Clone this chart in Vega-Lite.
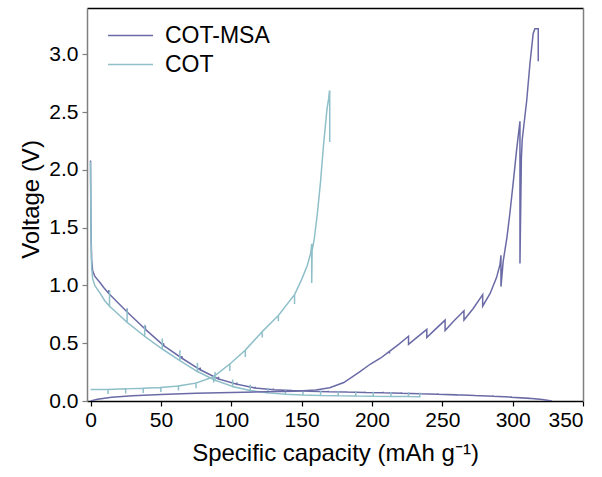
{
  "$schema": "https://vega.github.io/schema/vega-lite/v6.json",
  "width": 496,
  "height": 393,
  "autosize": {"type": "none"},
  "padding": {"left": 87, "top": 8, "right": 19, "bottom": 76},
  "background": "white",
  "config": {
    "view": {"stroke": null},
    "axis": {"grid": false, "labelFont": "Liberation Sans", "titleFont": "Liberation Sans", "labelFontSize": 21, "titleFontSize": 24, "labelColor": "#000", "titleColor": "#000", "titleFontWeight": "normal"}
  },
  "data": {"values": [
    {"s":"COT-MSA","p":"d","i":1,"x":0,"y":2.08},
    {"s":"COT-MSA","p":"d","i":2,"x":0.3,"y":1.5},
    {"s":"COT-MSA","p":"d","i":3,"x":0.8,"y":1.22},
    {"s":"COT-MSA","p":"d","i":4,"x":1.5,"y":1.13},
    {"s":"COT-MSA","p":"d","i":5,"x":3,"y":1.08},
    {"s":"COT-MSA","p":"d","i":6,"x":6.4,"y":1.03},
    {"s":"COT-MSA","p":"d","i":7,"x":9.5,"y":0.98},
    {"s":"COT-MSA","p":"d","i":8,"x":13,"y":0.93},
    {"s":"COT-MSA","p":"d","i":9,"x":13,"y":0.96},
    {"s":"COT-MSA","p":"d","i":10,"x":13,"y":0.93},
    {"s":"COT-MSA","p":"d","i":11,"x":26,"y":0.77},
    {"s":"COT-MSA","p":"d","i":12,"x":26,"y":0.8},
    {"s":"COT-MSA","p":"d","i":13,"x":26,"y":0.77},
    {"s":"COT-MSA","p":"d","i":14,"x":39,"y":0.62},
    {"s":"COT-MSA","p":"d","i":15,"x":39,"y":0.65},
    {"s":"COT-MSA","p":"d","i":16,"x":39,"y":0.62},
    {"s":"COT-MSA","p":"d","i":17,"x":52,"y":0.48},
    {"s":"COT-MSA","p":"d","i":18,"x":52,"y":0.5},
    {"s":"COT-MSA","p":"d","i":19,"x":52,"y":0.48},
    {"s":"COT-MSA","p":"d","i":20,"x":65,"y":0.37},
    {"s":"COT-MSA","p":"d","i":21,"x":65,"y":0.39},
    {"s":"COT-MSA","p":"d","i":22,"x":65,"y":0.37},
    {"s":"COT-MSA","p":"d","i":23,"x":78,"y":0.27},
    {"s":"COT-MSA","p":"d","i":24,"x":78,"y":0.29},
    {"s":"COT-MSA","p":"d","i":25,"x":78,"y":0.27},
    {"s":"COT-MSA","p":"d","i":26,"x":91,"y":0.19},
    {"s":"COT-MSA","p":"d","i":27,"x":91,"y":0.21},
    {"s":"COT-MSA","p":"d","i":28,"x":91,"y":0.19},
    {"s":"COT-MSA","p":"d","i":29,"x":104,"y":0.145},
    {"s":"COT-MSA","p":"d","i":30,"x":104,"y":0.16},
    {"s":"COT-MSA","p":"d","i":31,"x":104,"y":0.145},
    {"s":"COT-MSA","p":"d","i":32,"x":117,"y":0.112},
    {"s":"COT-MSA","p":"d","i":33,"x":117,"y":0.124},
    {"s":"COT-MSA","p":"d","i":34,"x":117,"y":0.112},
    {"s":"COT-MSA","p":"d","i":35,"x":130,"y":0.098},
    {"s":"COT-MSA","p":"d","i":36,"x":130,"y":0.108},
    {"s":"COT-MSA","p":"d","i":37,"x":130,"y":0.098},
    {"s":"COT-MSA","p":"d","i":38,"x":143,"y":0.09},
    {"s":"COT-MSA","p":"d","i":39,"x":143,"y":0.098},
    {"s":"COT-MSA","p":"d","i":40,"x":143,"y":0.09},
    {"s":"COT-MSA","p":"d","i":41,"x":156,"y":0.085},
    {"s":"COT-MSA","p":"d","i":42,"x":156,"y":0.093},
    {"s":"COT-MSA","p":"d","i":43,"x":156,"y":0.085},
    {"s":"COT-MSA","p":"d","i":44,"x":169,"y":0.08},
    {"s":"COT-MSA","p":"d","i":45,"x":169,"y":0.088},
    {"s":"COT-MSA","p":"d","i":46,"x":169,"y":0.08},
    {"s":"COT-MSA","p":"d","i":47,"x":182,"y":0.077},
    {"s":"COT-MSA","p":"d","i":48,"x":182,"y":0.085},
    {"s":"COT-MSA","p":"d","i":49,"x":182,"y":0.077},
    {"s":"COT-MSA","p":"d","i":50,"x":195,"y":0.074},
    {"s":"COT-MSA","p":"d","i":51,"x":195,"y":0.082},
    {"s":"COT-MSA","p":"d","i":52,"x":195,"y":0.074},
    {"s":"COT-MSA","p":"d","i":53,"x":208,"y":0.071},
    {"s":"COT-MSA","p":"d","i":54,"x":208,"y":0.079},
    {"s":"COT-MSA","p":"d","i":55,"x":208,"y":0.071},
    {"s":"COT-MSA","p":"d","i":56,"x":221,"y":0.067},
    {"s":"COT-MSA","p":"d","i":57,"x":221,"y":0.075},
    {"s":"COT-MSA","p":"d","i":58,"x":221,"y":0.067},
    {"s":"COT-MSA","p":"d","i":59,"x":234,"y":0.063},
    {"s":"COT-MSA","p":"d","i":60,"x":234,"y":0.071},
    {"s":"COT-MSA","p":"d","i":61,"x":234,"y":0.063},
    {"s":"COT-MSA","p":"d","i":62,"x":247,"y":0.058},
    {"s":"COT-MSA","p":"d","i":63,"x":247,"y":0.066},
    {"s":"COT-MSA","p":"d","i":64,"x":247,"y":0.058},
    {"s":"COT-MSA","p":"d","i":65,"x":260,"y":0.053},
    {"s":"COT-MSA","p":"d","i":66,"x":260,"y":0.061},
    {"s":"COT-MSA","p":"d","i":67,"x":260,"y":0.053},
    {"s":"COT-MSA","p":"d","i":68,"x":273,"y":0.047},
    {"s":"COT-MSA","p":"d","i":69,"x":273,"y":0.055},
    {"s":"COT-MSA","p":"d","i":70,"x":273,"y":0.047},
    {"s":"COT-MSA","p":"d","i":71,"x":286,"y":0.041},
    {"s":"COT-MSA","p":"d","i":72,"x":286,"y":0.049},
    {"s":"COT-MSA","p":"d","i":73,"x":286,"y":0.041},
    {"s":"COT-MSA","p":"d","i":74,"x":299,"y":0.033},
    {"s":"COT-MSA","p":"d","i":75,"x":299,"y":0.041},
    {"s":"COT-MSA","p":"d","i":76,"x":299,"y":0.033},
    {"s":"COT-MSA","p":"d","i":77,"x":312,"y":0.023},
    {"s":"COT-MSA","p":"d","i":78,"x":312,"y":0.031},
    {"s":"COT-MSA","p":"d","i":79,"x":312,"y":0.023},
    {"s":"COT-MSA","p":"d","i":80,"x":321,"y":0.012},
    {"s":"COT-MSA","p":"d","i":81,"x":328,"y":0.0},

    {"s":"COT","p":"d","i":1,"x":0,"y":2.07},
    {"s":"COT","p":"d","i":2,"x":0.3,"y":1.45},
    {"s":"COT","p":"d","i":3,"x":0.8,"y":1.15},
    {"s":"COT","p":"d","i":4,"x":1.5,"y":1.06},
    {"s":"COT","p":"d","i":5,"x":3,"y":1.0},
    {"s":"COT","p":"d","i":6,"x":6.4,"y":0.94},
    {"s":"COT","p":"d","i":7,"x":10,"y":0.87},
    {"s":"COT","p":"d","i":8,"x":13.5,"y":0.82},
    {"s":"COT","p":"d","i":9,"x":13.5,"y":0.96},
    {"s":"COT","p":"d","i":10,"x":13.5,"y":0.82},
    {"s":"COT","p":"d","i":11,"x":26,"y":0.68},
    {"s":"COT","p":"d","i":12,"x":26,"y":0.8},
    {"s":"COT","p":"d","i":13,"x":26,"y":0.68},
    {"s":"COT","p":"d","i":14,"x":38.5,"y":0.56},
    {"s":"COT","p":"d","i":15,"x":38.5,"y":0.66},
    {"s":"COT","p":"d","i":16,"x":38.5,"y":0.56},
    {"s":"COT","p":"d","i":17,"x":51,"y":0.45},
    {"s":"COT","p":"d","i":18,"x":51,"y":0.54},
    {"s":"COT","p":"d","i":19,"x":51,"y":0.45},
    {"s":"COT","p":"d","i":20,"x":63.5,"y":0.35},
    {"s":"COT","p":"d","i":21,"x":63.5,"y":0.44},
    {"s":"COT","p":"d","i":22,"x":63.5,"y":0.35},
    {"s":"COT","p":"d","i":23,"x":76,"y":0.255},
    {"s":"COT","p":"d","i":24,"x":76,"y":0.33},
    {"s":"COT","p":"d","i":25,"x":76,"y":0.255},
    {"s":"COT","p":"d","i":26,"x":88.5,"y":0.18},
    {"s":"COT","p":"d","i":27,"x":88.5,"y":0.25},
    {"s":"COT","p":"d","i":28,"x":88.5,"y":0.18},
    {"s":"COT","p":"d","i":29,"x":101,"y":0.125},
    {"s":"COT","p":"d","i":30,"x":101,"y":0.185},
    {"s":"COT","p":"d","i":31,"x":101,"y":0.125},
    {"s":"COT","p":"d","i":32,"x":113.5,"y":0.09},
    {"s":"COT","p":"d","i":33,"x":113.5,"y":0.14},
    {"s":"COT","p":"d","i":34,"x":113.5,"y":0.09},
    {"s":"COT","p":"d","i":35,"x":126,"y":0.07},
    {"s":"COT","p":"d","i":36,"x":126,"y":0.115},
    {"s":"COT","p":"d","i":37,"x":126,"y":0.07},
    {"s":"COT","p":"d","i":38,"x":138.5,"y":0.058},
    {"s":"COT","p":"d","i":39,"x":138.5,"y":0.1},
    {"s":"COT","p":"d","i":40,"x":138.5,"y":0.058},
    {"s":"COT","p":"d","i":41,"x":151,"y":0.052},
    {"s":"COT","p":"d","i":42,"x":151,"y":0.093},
    {"s":"COT","p":"d","i":43,"x":151,"y":0.052},
    {"s":"COT","p":"d","i":44,"x":163.5,"y":0.048},
    {"s":"COT","p":"d","i":45,"x":163.5,"y":0.088},
    {"s":"COT","p":"d","i":46,"x":163.5,"y":0.048},
    {"s":"COT","p":"d","i":47,"x":176,"y":0.046},
    {"s":"COT","p":"d","i":48,"x":176,"y":0.085},
    {"s":"COT","p":"d","i":49,"x":176,"y":0.046},
    {"s":"COT","p":"d","i":50,"x":188.5,"y":0.044},
    {"s":"COT","p":"d","i":51,"x":188.5,"y":0.083},
    {"s":"COT","p":"d","i":52,"x":188.5,"y":0.044},
    {"s":"COT","p":"d","i":53,"x":201,"y":0.042},
    {"s":"COT","p":"d","i":54,"x":201,"y":0.08},
    {"s":"COT","p":"d","i":55,"x":201,"y":0.042},
    {"s":"COT","p":"d","i":56,"x":213.5,"y":0.04},
    {"s":"COT","p":"d","i":57,"x":213.5,"y":0.078},
    {"s":"COT","p":"d","i":58,"x":213.5,"y":0.04},
    {"s":"COT","p":"d","i":59,"x":226,"y":0.038},
    {"s":"COT","p":"d","i":60,"x":226,"y":0.075},
    {"s":"COT","p":"d","i":61,"x":226,"y":0.038},
    {"s":"COT","p":"d","i":62,"x":234,"y":0.037},
    {"s":"COT","p":"d","i":63,"x":234,"y":0.07},

    {"s":"COT","p":"c","i":1,"x":0,"y":0.1},
    {"s":"COT","p":"c","i":2,"x":12.5,"y":0.1},
    {"s":"COT","p":"c","i":3,"x":12.5,"y":0.06},
    {"s":"COT","p":"c","i":4,"x":12.5,"y":0.1},
    {"s":"COT","p":"c","i":5,"x":25,"y":0.105},
    {"s":"COT","p":"c","i":6,"x":25,"y":0.065},
    {"s":"COT","p":"c","i":7,"x":25,"y":0.105},
    {"s":"COT","p":"c","i":8,"x":37.5,"y":0.11},
    {"s":"COT","p":"c","i":9,"x":37.5,"y":0.07},
    {"s":"COT","p":"c","i":10,"x":37.5,"y":0.11},
    {"s":"COT","p":"c","i":11,"x":50,"y":0.117},
    {"s":"COT","p":"c","i":12,"x":50,"y":0.077},
    {"s":"COT","p":"c","i":13,"x":50,"y":0.117},
    {"s":"COT","p":"c","i":14,"x":62.5,"y":0.13},
    {"s":"COT","p":"c","i":15,"x":62.5,"y":0.09},
    {"s":"COT","p":"c","i":16,"x":62.5,"y":0.13},
    {"s":"COT","p":"c","i":17,"x":75,"y":0.155},
    {"s":"COT","p":"c","i":18,"x":75,"y":0.11},
    {"s":"COT","p":"c","i":19,"x":75,"y":0.155},
    {"s":"COT","p":"c","i":20,"x":87.5,"y":0.21},
    {"s":"COT","p":"c","i":21,"x":87.5,"y":0.16},
    {"s":"COT","p":"c","i":22,"x":87.5,"y":0.21},
    {"s":"COT","p":"c","i":23,"x":99,"y":0.32},
    {"s":"COT","p":"c","i":24,"x":99,"y":0.26},
    {"s":"COT","p":"c","i":25,"x":99,"y":0.32},
    {"s":"COT","p":"c","i":26,"x":110,"y":0.44},
    {"s":"COT","p":"c","i":27,"x":110,"y":0.38},
    {"s":"COT","p":"c","i":28,"x":110,"y":0.44},
    {"s":"COT","p":"c","i":29,"x":122,"y":0.6},
    {"s":"COT","p":"c","i":30,"x":122,"y":0.55},
    {"s":"COT","p":"c","i":31,"x":122,"y":0.6},
    {"s":"COT","p":"c","i":32,"x":133.5,"y":0.74},
    {"s":"COT","p":"c","i":33,"x":133.5,"y":0.69},
    {"s":"COT","p":"c","i":34,"x":133.5,"y":0.74},
    {"s":"COT","p":"c","i":35,"x":145,"y":0.92},
    {"s":"COT","p":"c","i":36,"x":145,"y":0.84},
    {"s":"COT","p":"c","i":37,"x":145,"y":0.92},
    {"s":"COT","p":"c","i":38,"x":150,"y":1.05},
    {"s":"COT","p":"c","i":39,"x":154,"y":1.17},
    {"s":"COT","p":"c","i":40,"x":156.5,"y":1.28},
    {"s":"COT","p":"c","i":41,"x":157.2,"y":1.36},
    {"s":"COT","p":"c","i":42,"x":157.2,"y":1.02},
    {"s":"COT","p":"c","i":43,"x":157.5,"y":1.3},
    {"s":"COT","p":"c","i":44,"x":159,"y":1.4},
    {"s":"COT","p":"c","i":45,"x":161.2,"y":1.62},
    {"s":"COT","p":"c","i":46,"x":163.5,"y":1.9},
    {"s":"COT","p":"c","i":47,"x":165.5,"y":2.2},
    {"s":"COT","p":"c","i":48,"x":168,"y":2.52},
    {"s":"COT","p":"c","i":49,"x":169.3,"y":2.62},
    {"s":"COT","p":"c","i":50,"x":169.8,"y":2.68},
    {"s":"COT","p":"c","i":51,"x":170,"y":2.68},
    {"s":"COT","p":"c","i":52,"x":170,"y":2.24},

    {"s":"COT-MSA","p":"c","i":1,"x":0,"y":0.0},
    {"s":"COT-MSA","p":"c","i":2,"x":5,"y":0.015},
    {"s":"COT-MSA","p":"c","i":3,"x":15,"y":0.032},
    {"s":"COT-MSA","p":"c","i":4,"x":30,"y":0.046},
    {"s":"COT-MSA","p":"c","i":5,"x":50,"y":0.057},
    {"s":"COT-MSA","p":"c","i":6,"x":75,"y":0.066},
    {"s":"COT-MSA","p":"c","i":7,"x":100,"y":0.073},
    {"s":"COT-MSA","p":"c","i":8,"x":125,"y":0.079},
    {"s":"COT-MSA","p":"c","i":9,"x":145,"y":0.085},
    {"s":"COT-MSA","p":"c","i":10,"x":160,"y":0.095},
    {"s":"COT-MSA","p":"c","i":11,"x":170,"y":0.115},
    {"s":"COT-MSA","p":"c","i":12,"x":180,"y":0.16},
    {"s":"COT-MSA","p":"c","i":13,"x":191,"y":0.25},
    {"s":"COT-MSA","p":"c","i":14,"x":199,"y":0.32},
    {"s":"COT-MSA","p":"c","i":15,"x":206,"y":0.37},
    {"s":"COT-MSA","p":"c","i":16,"x":212.5,"y":0.43},
    {"s":"COT-MSA","p":"c","i":17,"x":212.5,"y":0.41},
    {"s":"COT-MSA","p":"c","i":18,"x":212.5,"y":0.43},
    {"s":"COT-MSA","p":"c","i":19,"x":219,"y":0.49},
    {"s":"COT-MSA","p":"c","i":20,"x":226,"y":0.56},
    {"s":"COT-MSA","p":"c","i":21,"x":226,"y":0.49},
    {"s":"COT-MSA","p":"c","i":22,"x":232,"y":0.55},
    {"s":"COT-MSA","p":"c","i":23,"x":239,"y":0.62},
    {"s":"COT-MSA","p":"c","i":24,"x":239,"y":0.55},
    {"s":"COT-MSA","p":"c","i":25,"x":245,"y":0.62},
    {"s":"COT-MSA","p":"c","i":26,"x":252,"y":0.7},
    {"s":"COT-MSA","p":"c","i":27,"x":252,"y":0.61},
    {"s":"COT-MSA","p":"c","i":28,"x":258,"y":0.69},
    {"s":"COT-MSA","p":"c","i":29,"x":265.4,"y":0.78},
    {"s":"COT-MSA","p":"c","i":30,"x":265.4,"y":0.7},
    {"s":"COT-MSA","p":"c","i":31,"x":272,"y":0.8},
    {"s":"COT-MSA","p":"c","i":32,"x":278.7,"y":0.92},
    {"s":"COT-MSA","p":"c","i":33,"x":278.7,"y":0.82},
    {"s":"COT-MSA","p":"c","i":34,"x":284,"y":0.93},
    {"s":"COT-MSA","p":"c","i":35,"x":288.6,"y":1.07},
    {"s":"COT-MSA","p":"c","i":36,"x":291,"y":1.18},
    {"s":"COT-MSA","p":"c","i":37,"x":291.7,"y":1.26},
    {"s":"COT-MSA","p":"c","i":38,"x":291.7,"y":0.99},
    {"s":"COT-MSA","p":"c","i":39,"x":293.3,"y":1.21},
    {"s":"COT-MSA","p":"c","i":40,"x":296,"y":1.42},
    {"s":"COT-MSA","p":"c","i":41,"x":298,"y":1.62},
    {"s":"COT-MSA","p":"c","i":42,"x":300.5,"y":1.9},
    {"s":"COT-MSA","p":"c","i":43,"x":302.8,"y":2.17},
    {"s":"COT-MSA","p":"c","i":44,"x":305.2,"y":2.42},
    {"s":"COT-MSA","p":"c","i":45,"x":305.2,"y":1.19},
    {"s":"COT-MSA","p":"c","i":46,"x":306.2,"y":2.1},
    {"s":"COT-MSA","p":"c","i":47,"x":306.8,"y":2.26},
    {"s":"COT-MSA","p":"c","i":48,"x":310,"y":2.6},
    {"s":"COT-MSA","p":"c","i":49,"x":312.3,"y":2.92},
    {"s":"COT-MSA","p":"c","i":50,"x":314.6,"y":3.18},
    {"s":"COT-MSA","p":"c","i":51,"x":315.8,"y":3.22},
    {"s":"COT-MSA","p":"c","i":52,"x":318.2,"y":3.22},
    {"s":"COT-MSA","p":"c","i":53,"x":318.2,"y":2.94}
  ]},
  "layer": [
    {
      "mark": {"type": "line", "strokeWidth": 1.5, "clip": true},
      "encoding": {
        "x": {"field": "x", "type": "quantitative",
          "scale": {"domain": [-2.5, 350], "nice": false, "zero": false},
          "axis": {"values": [0, 50, 100, 150, 200, 250, 300, 350], "title": "Specific capacity (mAh g⁻¹)", "domainColor": "#000", "domainWidth": 1.5, "tickColor": "#000", "tickSize": 5, "tickWidth": 1.2, "labelPadding": 3, "titlePadding": 11}},
        "y": {"field": "y", "type": "quantitative",
          "scale": {"domain": [0, 3.4], "nice": false, "zero": false},
          "axis": {"values": [0, 0.5, 1, 1.5, 2, 2.5, 3], "format": ".1f", "title": "Voltage (V)", "domainColor": "#7f7f7f", "domainWidth": 1.5, "tickColor": "#7f7f7f", "tickSize": 5, "tickWidth": 1.2, "labelPadding": 4, "titleX": -44, "titleY": 191}},
        "color": {"field": "s", "type": "nominal",
          "scale": {"domain": ["COT-MSA", "COT"], "range": ["#6a6aa6", "#8fbfc9"]},
          "legend": {"title": null, "orient": "none", "legendX": 32, "legendY": 16, "symbolType": "M-3,0H3", "symbolSize": 225, "symbolStrokeWidth": 1.6, "labelFont": "Liberation Sans", "labelFontSize": 23, "labelColor": "#000", "labelOffset": 23, "rowPadding": 5, "padding": 0}},
        "detail": {"field": "p", "type": "nominal"},
        "order": {"field": "i", "type": "quantitative"}
      }
    },
    {
      "mark": {"type": "point", "opacity": 0},
      "encoding": {
        "x": {"field": "x", "type": "quantitative",
          "axis": {"orient": "top", "labels": false, "ticks": false, "title": null, "domainColor": "#000", "domainWidth": 1.5}},
        "y": {"field": "y", "type": "quantitative",
          "axis": {"orient": "right", "labels": false, "ticks": false, "title": null, "domainColor": "#7f7f7f", "domainWidth": 1.5}}
      }
    }
  ],
  "resolve": {"axis": {"x": "independent", "y": "independent"}}
}
